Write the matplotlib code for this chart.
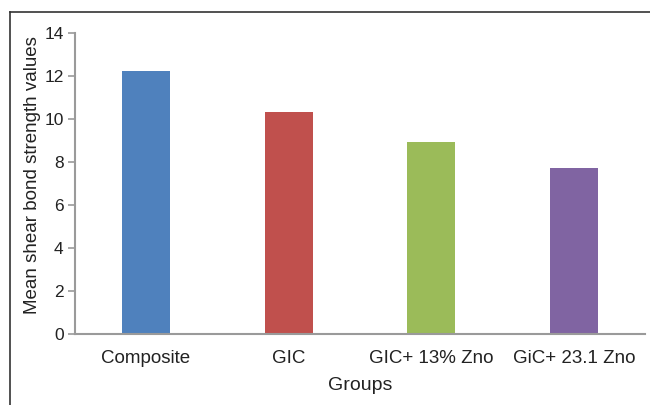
import matplotlib
matplotlib.use('Agg')
import matplotlib.pyplot as plt
from matplotlib.lines import Line2D

# group names and mean shear bond strength
groups = ['Composite', 'GIC', 'GIC+ 13% Zno', 'GiC+ 23.1 Zno']
strength = [12.2, 10.3, 8.9, 7.7]
bar_colors = ['#4F81BD', '#C0504D', '#9BBB59', '#8064A2']

plt.rcParams['font.family'] = ['Liberation Sans', 'DejaVu Sans']

fig = plt.figure(figsize=(6.5, 4.05), dpi=100)
ax = fig.add_axes([0.1149, 0.176, 0.878, 0.743])

x = range(len(groups))
ax.bar(x, strength, width=0.336, color=bar_colors, zorder=2)

ax.set_xlim(-0.5, len(groups) - 0.5)
ax.set_ylim(0, 14)
ax.set_yticks(range(0, 15, 2))
ax.set_xticks(list(x))
ax.set_xticklabels(groups)

# axis styling: grey left/bottom spines only
for side in ['top', 'right']:
    ax.spines[side].set_visible(False)
for side in ['left', 'bottom']:
    ax.spines[side].set_color('#9a9a9a')
    ax.spines[side].set_linewidth(1.5)
ax.tick_params(axis='y', length=5, width=1.2, color='#9a9a9a', pad=3,
               labelsize=12.5, labelcolor='#222222')
ax.tick_params(axis='x', length=0, pad=12, labelsize=13.5, labelcolor='#222222')

ax.set_ylabel('Mean shear bond strength values', fontsize=13.5, color='#222222')
ax.yaxis.set_label_coords(-0.059, 0.527)
ax.set_xlabel('Groups', fontsize=14, color='#222222', labelpad=7)

# frame lines along the top and left of the figure
fig.add_artist(Line2D([10 / 650, 1], [1 - 12 / 405, 1 - 12 / 405],
                      transform=fig.transFigure, color='#333333', lw=1.2))
fig.add_artist(Line2D([10 / 650, 10 / 650], [0, 1 - 12 / 405],
                      transform=fig.transFigure, color='#333333', lw=1.2))

plt.savefig('out.png', dpi=100)
